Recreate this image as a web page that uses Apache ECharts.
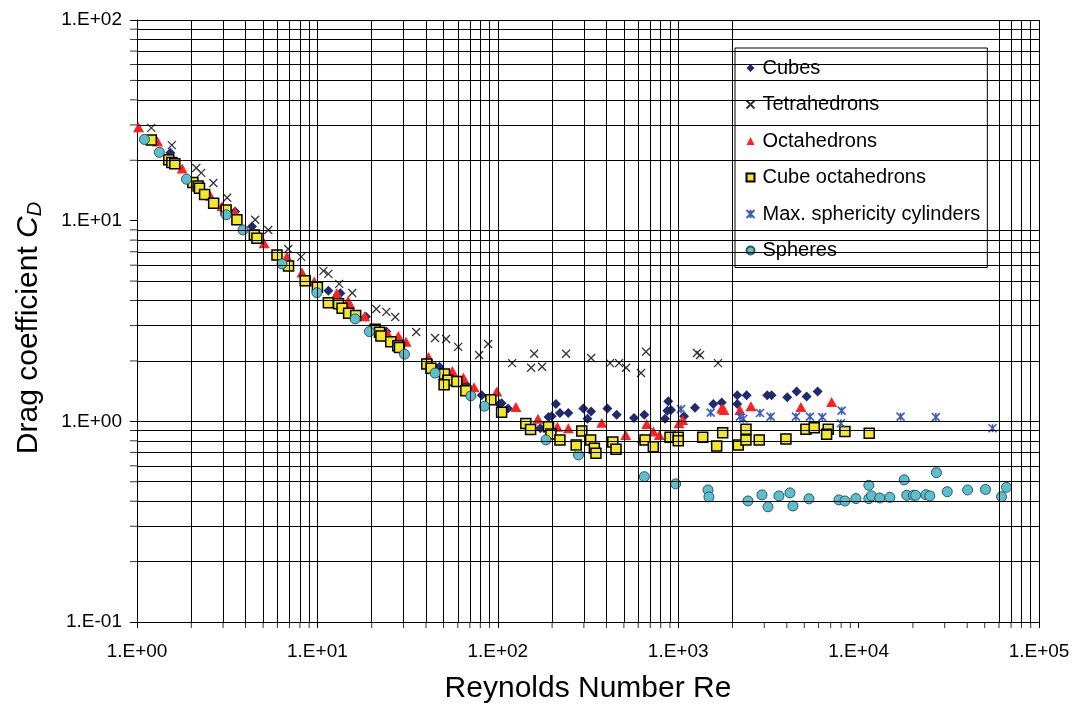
<!DOCTYPE html>
<html>
<head>
<meta charset="utf-8">
<script src="https://cdn.jsdelivr.net/npm/echarts/dist/echarts.min.js"></script>
<style>
html,body{margin:0;padding:0;background:#fff;}
#chart{width:1077px;height:706px;}
</style>
</head>
<body>
<div id="chart"></div>
<script>
// ---- Data (Re, Cd) ----
const cubes = [[1.53,21.8],[3.50,11.1],[4.34,9.34],[11.5,4.48],[13.4,4.35],[18.6,3.32],[24.1,2.80],[47.5,1.87],[66.7,1.52],[81.5,1.35],[102,1.22],[105,1.23],[114,1.16],[172,0.924],[191,1.05],[199,1.06],[210,1.22],[221,1.10],[246,1.10],[298,1.16],[329,1.12],[314,1.03],[405,1.16],[456,1.08],[569,1.04],[649,1.08],[845,1.03],[870,1.13],[881,1.26],[912,1.14],[1077,1.06],[1239,1.17],[1565,1.22],[1742,1.24],[2125,1.35],[2395,1.35],[2125,1.22],[3115,1.35],[3296,1.35],[4022,1.32],[4535,1.41],[5152,1.33],[5929,1.41]];

const tetrahedrons = [[1.20,29.0],[1.56,23.8],[2.13,18.3],[2.27,17.3],[2.65,15.4],[3.16,13.0],[4.52,10.1],[5.34,8.99],[6.89,7.23],[8.13,6.60],[10.8,5.62],[11.5,5.43],[13.2,4.84],[15.6,4.36],[21.2,3.63],[24.1,3.51],[27.0,3.31],[35.3,2.79],[44.9,2.60],[51.7,2.57],[60.3,2.35],[78.8,2.14],[88.4,2.43],[120,1.95],[159,2.17],[153,1.85],[176,1.87],[239,2.17],[329,2.07],[419,1.95],[470,1.95],[514,1.85],[622,1.74],[663,2.22],[1271,2.19],[1321,2.14],[1662,1.95]];

const octahedrons = [[1.02,29.2],[1.30,24.8],[1.78,18.2],[2.55,13.3],[2.96,11.8],[3.50,11.0],[5.07,7.72],[6.78,6.62],[8.21,5.51],[9.60,4.97],[12.8,4.35],[14.8,3.99],[15.1,3.85],[18.3,3.34],[24.5,2.75],[28.1,2.66],[31.0,2.49],[41.3,2.09],[56.0,1.78],[64.5,1.65],[73.9,1.48],[98.7,1.41],[126,1.18],[167,1.03],[214,0.941],[246,0.924],[377,0.985],[512,0.855],[632,0.824],[669,0.970],[728,0.889],[786,0.855],[1010,0.978],[1059,1.016],[1742,1.16],[1794,1.14],[2199,1.14],[2531,1.19],[4789,1.18],[7088,1.25]];

const cubeOctahedrons = [[1.20,25.2],[1.50,20.1],[1.56,19.5],[1.62,19.2],[2.04,15.5],[2.18,14.9],[2.22,14.5],[2.37,13.5],[2.66,12.2],[3.12,11.3],[3.58,10.1],[4.47,8.49],[4.62,8.17],[5.97,6.75],[6.92,5.95],[8.56,5.02],[10.0,4.66],[11.5,3.90],[13.1,3.85],[13.7,3.66],[14.9,3.46],[16.3,3.37],[20.9,2.88],[22.1,2.78],[22.5,2.66],[25.5,2.49],[27.9,2.38],[28.5,2.33],[40.4,1.93],[42.6,1.84],[50.6,1.72],[52.8,1.60],[50.4,1.52],[59.3,1.58],[66.5,1.42],[91.5,1.28],[105,1.11],[143,0.976],[152,0.911],[191,0.941],[197,0.865],[221,0.808],[272,0.763],[292,0.896],[327,0.808],[343,0.735],[350,0.693],[434,0.790],[452,0.726],[655,0.808],[728,0.748],[901,0.833],[1001,0.833],[1001,0.801],[1367,0.833],[1634,0.754],[1764,0.878],[2153,0.763],[2375,0.913],[2375,0.808],[2814,0.808],[3956,0.817],[5105,0.913],[5675,0.930],[6785,0.913],[6648,0.862],[8398,0.889],[11450,0.873]];

const cylinders = [[1036,1.15],[1514,1.105],[2199,1.055],[2294,1.03],[2839,1.10],[3254,1.055],[4494,1.055],[5373,1.055],[6286,1.05],[8051,1.13],[7979,0.978],[17090,1.055],[26810,1.05],[55270,0.924]];

const spheres = [[1.10,25.4],[1.33,21.9],[1.88,16.1],[3.12,10.7],[3.87,8.99],[6.36,6.09],[9.94,4.38],[16.2,3.24],[19.4,2.80],[30.4,2.16],[44.9,1.74],[70.9,1.34],[84.3,1.19],[185,0.808],[280,0.680],[649,0.530],[968,0.488],[1463,0.455],[1481,0.420],[2436,0.401],[2913,0.430],[3145,0.375],[3617,0.425],[4164,0.440],[4326,0.379],[5305,0.411],[7781,0.406],[8398,0.401],[9660,0.412],[11400,0.480],[11400,0.412],[11800,0.425],[13100,0.415],[14900,0.418],[17900,0.511],[18500,0.428],[20100,0.428],[20700,0.428],[23600,0.431],[24800,0.425],[27000,0.555],[31000,0.446],[40200,0.455],[50500,0.458],[62000,0.421],[66000,0.469]];

// ---- Axis tick labels and grid/tick values ----
const xTickLabels = ['1.E+00','1.E+01','1.E+02','1.E+03','1.E+04','1.E+05'];
const yTickLabels = ['1.E-01','1.E+00','1.E+01','1.E+02'];
const xGridValues = [2,3,4,5,6,7,8,9,10,20,30,40,50,60,70,80,90,100,200,300,400,500,600,700,800,900,1000,2000,60000,70000,80000,90000,100000];
const yGridValues = [0.2,0.3,0.4,0.5,0.6,0.7,0.8,0.9,1,2,3,4,5,6,7,8,9,20,30,40,50,60,70,80,90,100];
const xMinorTickValues = [2,3,4,5,6,7,8,9,20,30,40,50,60,70,80,90,200,300,400,500,600,700,800,900,2000,3000,4000,5000,6000,7000,8000,9000,20000,30000,40000,50000,60000,70000,80000,90000];
const yMinorTickValues = [0.2,0.3,0.4,0.5,0.6,0.7,0.8,0.9,2,3,4,5,6,7,8,9,20,30,40,50,60,70,80,90];

const FONT = "'Liberation Sans', Arial, Helvetica, sans-serif";
const chart = echarts.init(document.getElementById('chart'), null, {renderer: 'canvas'});

const xMark = 'path://M0,0L10,10M10,0L0,10';
const starMark = 'path://M0,0L10,10M10,0L0,10M5,0L5,10';

const option = {
  animation: false,
  backgroundColor: '#fff',
  grid: {left: 137, right: 38, top: 20, bottom: 84, outerBoundsMode: 'none', containLabel: false},
  xAxis: {
    type: 'log', logBase: 10, min: 1, max: 100000,
    name: 'Reynolds Number Re', nameLocation: 'middle', nameGap: 52,
    nameTextStyle: {fontFamily: FONT, fontSize: 30, color: '#000'},
    axisLine: {show: true, lineStyle: {color: '#000', width: 1}},
    axisTick: {show: true, inside: false, length: 6, lineStyle: {color: '#000'}},
    minorTick: {show: false},
    splitLine: {show: false},
    axisLabel: {margin: 20, fontFamily: FONT, fontSize: 19, color: '#000',
      formatter: v => xTickLabels[Math.round(Math.log10(v))]}
  },
  yAxis: {
    type: 'log', logBase: 10, min: 0.1, max: 100,
    name: '{a|Drag coefficient }{c|C}{d|D}', nameLocation: 'middle', nameGap: 92,
    nameTextStyle: {fontFamily: FONT, fontSize: 30, color: '#000', padding: [0, 14, 0, 0],
      rich: {
        a: {fontFamily: FONT, fontSize: 30, color: '#000', lineHeight: 32},
        c: {fontFamily: FONT, fontSize: 30, color: '#000', fontStyle: 'italic', lineHeight: 32},
        d: {fontFamily: FONT, fontSize: 20, color: '#000', fontStyle: 'italic', lineHeight: 14, verticalAlign: 'bottom'}
      }},
    axisLine: {show: true, lineStyle: {color: '#000', width: 1}},
    axisTick: {show: true, inside: false, length: 7, lineStyle: {color: '#000'}},
    minorTick: {show: false},
    splitLine: {show: false},
    axisLabel: {margin: 15, fontFamily: FONT, fontSize: 19, color: '#000',
      formatter: v => yTickLabels[Math.round(Math.log10(v)) + 1]}
  },
  legend: {
    orient: 'vertical', left: 735, top: 48,
    padding: [9, 7, 6, 9],
    backgroundColor: '#fff', borderColor: '#000', borderWidth: 1, borderRadius: 0,
    itemWidth: 8, itemHeight: 8, itemGap: 14.5,
    textStyle: {fontFamily: FONT, fontSize: 20, color: '#000', lineHeight: 22, padding: [0, 0, 0, 3]},
    data: ['Cubes', 'Tetrahedrons', 'Octahedrons', 'Cube octahedrons', 'Max. sphericity cylinders', 'Spheres']
  },
  series: [
    {
      type: 'line', name: '_grid', data: [], z: 1, silent: true,
      markLine: {
        silent: true, symbol: 'none', animation: false,
        label: {show: false},
        lineStyle: {color: '#000', width: 1, type: 'solid'},
        data: xGridValues.map(v => ({xAxis: v})).concat(yGridValues.map(v => ({yAxis: v})))
      }
    },
    {
      type: 'scatter', name: '_xticks', z: 1, silent: true, clip: false,
      data: xMinorTickValues.map(v => [v, 0.1]),
      symbol: 'rect', symbolSize: [1, 6], symbolOffset: [0, 3],
      itemStyle: {color: '#000'}
    },
    {
      type: 'scatter', name: '_yticks', z: 1, silent: true, clip: false,
      data: yMinorTickValues.map(v => [1, v]),
      symbol: 'rect', symbolSize: [7, 1], symbolOffset: [-3.5, 0],
      itemStyle: {color: '#000'}
    },
    {
      type: 'scatter', name: 'Cubes', data: cubes, z: 2,
      symbol: 'diamond', symbolSize: 10,
      itemStyle: {color: '#1f2b6e', opacity: 1}
    },
    {
      type: 'scatter', name: 'Tetrahedrons', data: tetrahedrons, z: 2,
      symbol: xMark, symbolSize: 8,
      itemStyle: {color: 'none', borderColor: '#333', borderWidth: 1.3, opacity: 1}
    },
    {
      type: 'scatter', name: 'Octahedrons', data: octahedrons, z: 2,
      symbol: 'triangle', symbolSize: [11, 10],
      itemStyle: {color: '#ff2020', opacity: 1}
    },
    {
      type: 'scatter', name: 'Cube octahedrons', data: cubeOctahedrons, z: 2,
      symbol: 'rect', symbolSize: 10,
      itemStyle: {color: '#f4e826', borderColor: '#000', borderWidth: 1.5, opacity: 1}
    },
    {
      type: 'scatter', name: 'Max. sphericity cylinders', data: cylinders, z: 2,
      symbol: starMark, symbolSize: 8,
      itemStyle: {color: 'none', borderColor: '#3a5cc0', borderWidth: 1.6, opacity: 1}
    },
    {
      type: 'scatter', name: 'Spheres', data: spheres, z: 2,
      symbol: 'circle', symbolSize: 10,
      itemStyle: {color: '#5cbfce', borderColor: '#2a5860', borderWidth: 1, opacity: 1}
    }
  ]
};
chart.setOption(option);
</script>
</body>
</html>
